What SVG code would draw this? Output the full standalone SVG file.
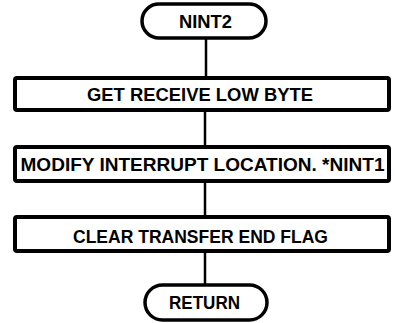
<svg xmlns="http://www.w3.org/2000/svg" width="397" height="323" viewBox="0 0 397 323">
<style>
.box{fill:#fff;stroke:#000;stroke-width:4}
.term{fill:#fff;stroke:#000;stroke-width:3.5}
.t{font-family:"Liberation Sans",Arial,sans-serif;font-weight:bold;font-size:17.5px;text-anchor:middle;fill:#000}
.c{stroke:#000;stroke-width:2.5;fill:none}
</style>
<rect width="397" height="323" fill="#fff"/>
<g id="connectors">
<line class="c" x1="206" y1="38" x2="206" y2="78"/>
<line class="c" x1="205" y1="110" x2="205" y2="147"/>
<line class="c" x1="205" y1="181" x2="205" y2="217"/>
<line class="c" x1="205" y1="251" x2="205" y2="285"/>
</g>
<g id="nint2">
<rect class="term" x="142" y="4" width="124" height="34" rx="17"/>
<text class="t" x="205.5" y="28" textLength="53" lengthAdjust="spacingAndGlyphs">NINT2</text>
</g>
<g id="get-receive">
<rect class="box" x="15" y="78" width="374" height="32" rx="2"/>
<text class="t" x="200" y="101" textLength="226" lengthAdjust="spacingAndGlyphs">GET RECEIVE LOW BYTE</text>
</g>
<g id="modify">
<rect class="box" x="15" y="147" width="374" height="34" rx="2"/>
<text class="t" x="202.5" y="171" textLength="364" lengthAdjust="spacingAndGlyphs">MODIFY INTERRUPT LOCATION. *NINT1</text>
</g>
<g id="clear">
<rect class="box" x="15" y="217" width="374" height="34" rx="2"/>
<text class="t" x="200.5" y="243" textLength="255" lengthAdjust="spacingAndGlyphs">CLEAR TRANSFER END FLAG</text>
</g>
<g id="return">
<rect class="term" x="145" y="285" width="122" height="35" rx="17.5"/>
<text class="t" x="204.5" y="309" textLength="71" lengthAdjust="spacingAndGlyphs">RETURN</text>
</g>
</svg>
